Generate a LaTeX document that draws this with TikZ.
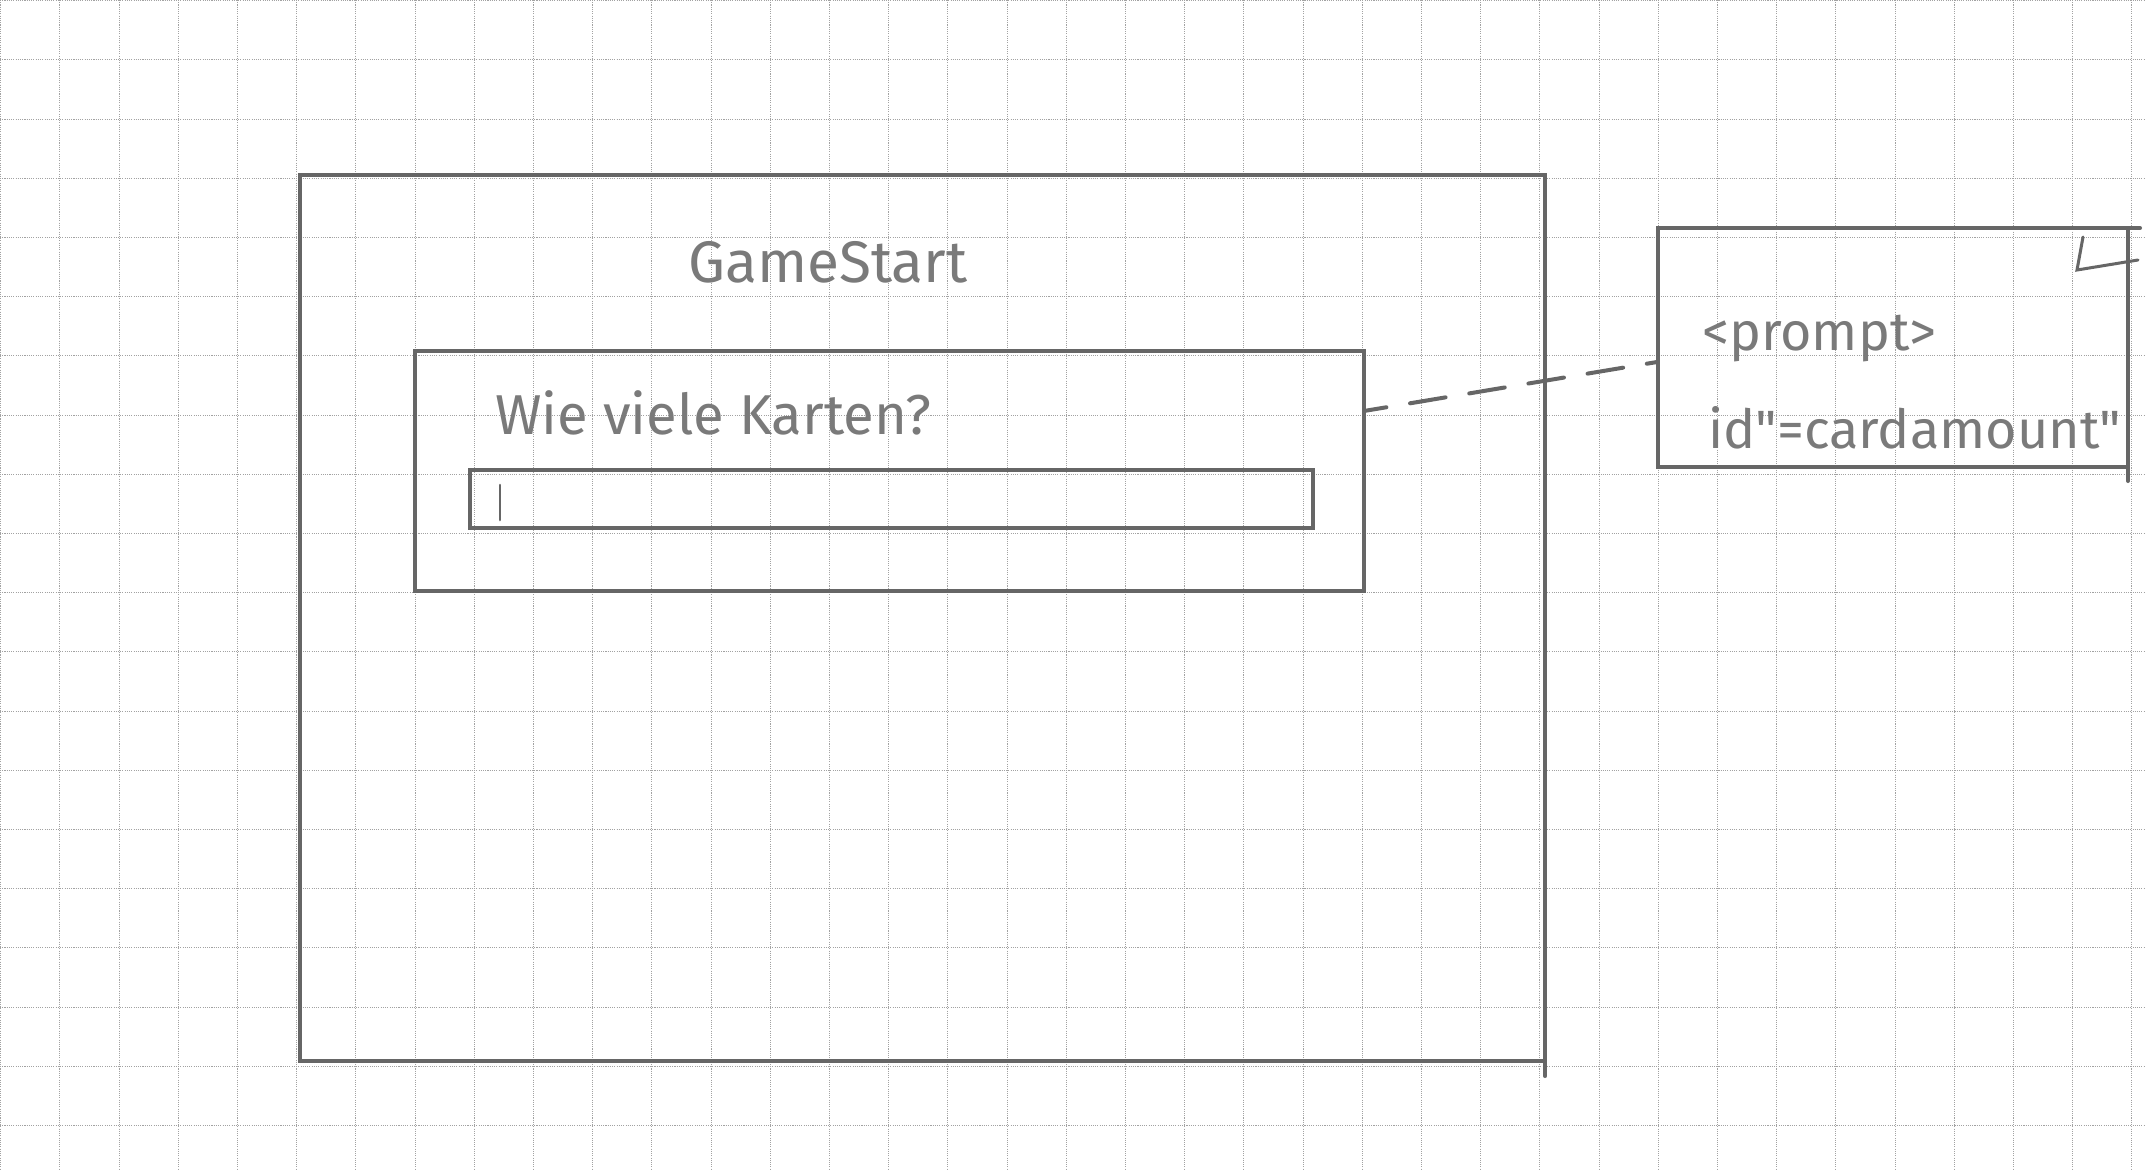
\documentclass[tikz,border=0pt]{standalone}
\usepackage{fontspec}
\setmainfont{Fira Sans}
\usetikzlibrary{calc}
\definecolor{pencil}{HTML}{666666}
\definecolor{pencillight}{HTML}{7A7A7A}
\definecolor{gridgray}{HTML}{A2A2A2}
\begin{document}
\begin{tikzpicture}[x=0.03cm,y=-0.03cm,
  pen/.style={draw=pencil, line width=0.12cm, line cap=round},
  box/.style={pen, rectangle, inner sep=0pt, outer sep=0pt},
  hand/.style={text=pencillight, font=\fontsize{46}{52}\selectfont, inner sep=0pt, anchor=base west},
  gridline/.style={draw=gridgray, line width=0.9pt, densely dotted},
  link/.style={pen, dash pattern=on 1.08cm off 0.72cm, dash phase=0.4cm}]
\useasboundingbox (0,0) rectangle (2145,1169);
\fill[white] (0,0) rectangle (2145,1169);
\foreach \i in {0,...,36} \draw[gridline] ({0.7+59.2*\i},0) -- ({0.7+59.2*\i},1169);
\foreach \j in {0,...,19} \draw[gridline] (0,{0.7+59.2*\j}) -- (2145,{0.7+59.2*\j});

% boxes
\node[box, minimum width=37.35cm, minimum height=26.58cm] (screen) at (922.5,618) {};
\node[box, minimum width=28.47cm, minimum height=7.2cm] (dialog) at (889.5,471) {};
\node[box, minimum width=25.29cm, minimum height=1.74cm] (field) at (891.5,499) {};
\node[box, minimum width=14.1cm, minimum height=7.17cm] (promptbox) at (1893,347.5) {};

% texts
\node[hand, font=\fontsize{50}{56}\selectfont] (title) at (688,282) {GameStart};
\node[hand, font=\fontsize{48}{54}\selectfont] (question) at (495,434) {Wie viele Karten?};
\node[hand] (tag) at (1702,350) {<prompt>};
\node[hand] (idattr) at (1708,448) {id\textquotedbl=cardamount\textquotedbl};

% cursor in the input field
\coordinate (curtop) at (500,485);
\coordinate (curbot) at (500,520);
\draw[pen, line width=0.08cm] (curtop) -- (curbot);

% small overhanging strokes
\draw[pen] (screen.south east) -- ++(0,15);
\draw[pen] (promptbox.south east) -- ++(0,14);
\draw[pen] (promptbox.north east) -- ++(12,0);
\coordinate (ltop) at (2083,237);
\coordinate (lcorner) at (2077,270);
\coordinate (lend) at (2138,260);
\draw[pen, line width=0.09cm] (ltop) -- (lcorner) -- (lend);

% dashed connector
\draw[link] ($(dialog.north east)!0.25!(dialog.south east)$) -- ($(promptbox.north west)!0.56!(promptbox.south west)$);
\end{tikzpicture}
\end{document}
